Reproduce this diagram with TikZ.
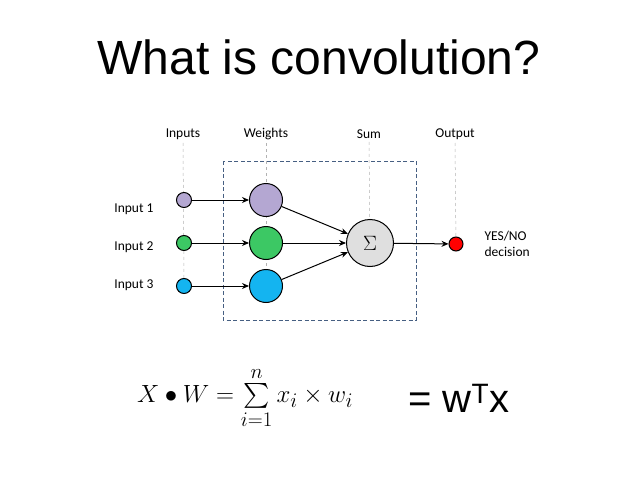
\documentclass[tikz,border=0pt]{standalone}
\usepackage{amsmath}
\usepackage{fontspec}
\setmainfont{Liberation Sans}
\newfontfamily\carlitofont{Carlito}
\usetikzlibrary{arrows.meta}
\definecolor{cpurp}{RGB}{180,167,210}
\definecolor{cgreen}{RGB}{60,200,100}
\definecolor{cblue}{RGB}{20,180,240}
\definecolor{cbox}{RGB}{70,95,130}
\begin{document}
\begin{tikzpicture}[x=1pt,y=-1pt,
  lab/.style={font=\carlitofont\fontsize{13.5}{16}\selectfont},
  inc/.style={circle,draw,line width=1pt,minimum size=15pt,inner sep=0},
  wc/.style={circle,draw,line width=1pt,minimum size=33pt,inner sep=0},
  guide/.style={draw=gray!60,dashed,line width=0.5pt},
  arr/.style={-{Stealth[length=7pt,width=6pt]},line width=1pt}]
\useasboundingbox (0,0) rectangle (638,479);
\node[font=\fontsize{48}{52}\selectfont] (title) at (319,57) {What is convolution?};
% labels
\node[lab] (lin) at (183,134) {Inputs};
\node[lab] (lw) at (266,134) {Weights};
\node[lab] (ls) at (369,134) {Sum};
\node[lab] (lo) at (455,134) {Output};
% box
\draw[draw=cbox,line width=1pt,dash pattern=on 4pt off 2.5pt] (223,161) rectangle (416,320);
% guides
\draw[guide] (lin.south) -- (184,286);
\draw[guide] (lw.south) -- (266,286);
\draw[guide] (ls.south) -- (370,243);
\draw[guide] (lo.south) -- (456,244);
% nodes
\node[inc,fill=cpurp] (i1) at (184,200) {};
\node[inc,fill=cgreen] (i2) at (184,243) {};
\node[inc,fill=cblue] (i3) at (184,286) {};
\node[wc,fill=cpurp] (w1) at (266,200) {};
\node[wc,fill=cgreen] (w2) at (266,243) {};
\node[wc,fill=cblue] (w3) at (266,286) {};
\node[circle,draw,line width=1pt,fill=gray!25,minimum size=47pt,inner sep=0,font=\fontsize{20}{20}\selectfont] (s) at (370,243) {$\Sigma$};
\node[circle,draw,line width=1pt,fill=red,minimum size=14pt,inner sep=0] (o) at (456,244) {};
% arrows
\draw[arr] (i1) -- (w1);
\draw[arr] (i2) -- (w2);
\draw[arr] (i3) -- (w3);
\draw[arr] (w1) -- (s);
\draw[arr] (w2) -- (s);
\draw[arr] (w3) -- (s);
\draw[arr] (s) -- (o);
% side labels
\node[lab,anchor=east] (t1) at (157,209) {Input 1};
\node[lab,anchor=east] (t2) at (157,247) {Input 2};
\node[lab,anchor=east] (t3) at (157,285) {Input 3};
\node[lab,anchor=west,align=left] (yn) at (481,244) {YES/NO\\decision};
% formula
\node[anchor=west,font=\fontsize{31}{34}\selectfont,inner sep=0] (f) at (137,398)
 {$X \bullet W = \sum\limits_{i=1}^{n} x_i \times w_i$};
\node[anchor=west,font=\fontsize{40}{44}\selectfont,inner sep=0] (g) at (408,398) {= w\textsuperscript{T}x};
\end{tikzpicture}
\end{document}
